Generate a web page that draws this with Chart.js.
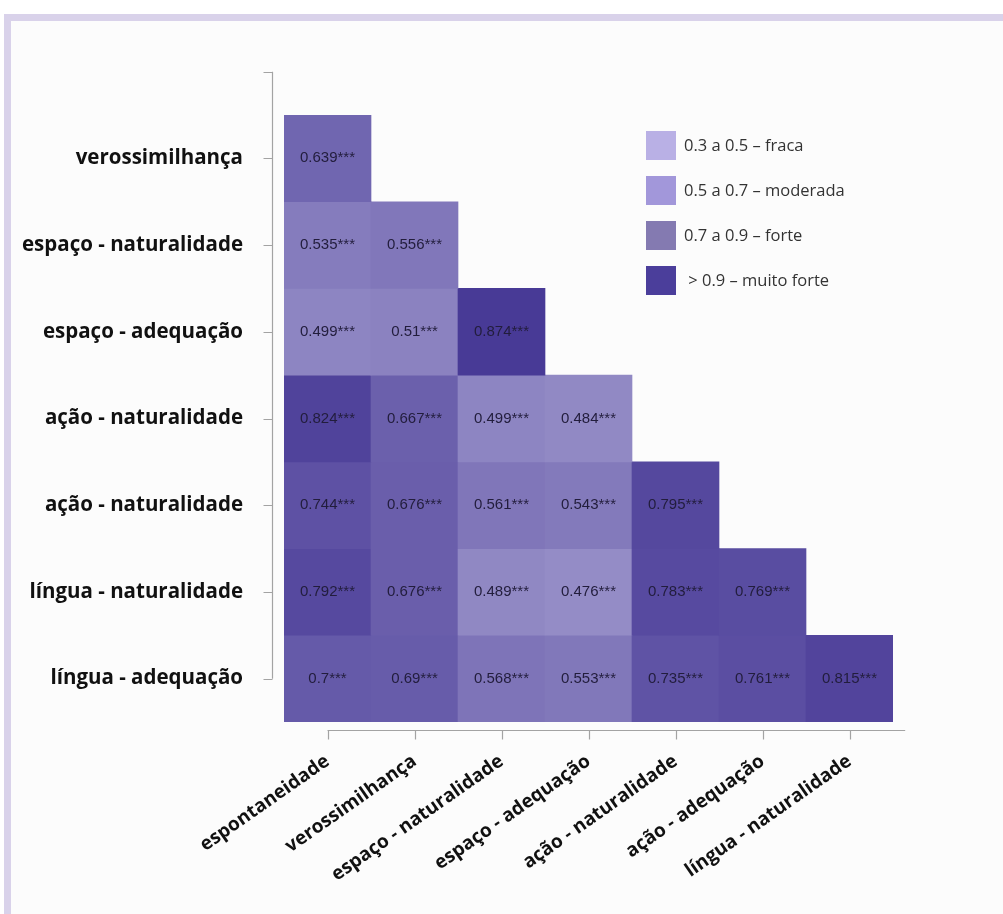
<!DOCTYPE html>
<html>
<head>
<meta charset="utf-8">
<script src="https://cdn.jsdelivr.net/npm/chart.js@4.4.1/dist/chart.umd.min.js"></script>
<style>
  html, body { margin: 0; padding: 0; background: #ffffff; }
  #page { position: relative; width: 1003px; height: 914px; overflow: hidden; }
  #frameTop { position: absolute; left: 4px; top: 14px; width: 999px; height: 7px; background: #d9d2ea; }
  #frameLeft { position: absolute; left: 4px; top: 14px; width: 7px; height: 900px; background: #d9d2ea; }
  #panel { position: absolute; left: 11px; top: 21px; right: 0; bottom: 0; background: #fcfcfc; }
  #chart { position: absolute; left: 0; top: 0; }
  #legend { position: absolute; left: 646px; top: 131px; font-family: "Open Sans", sans-serif; font-size: 16.5px; color: #333; }
  .item { position: relative; height: 29px; margin-bottom: 16px; }
  .sw { position: absolute; left: 0; top: 0; width: 30px; height: 29px; }
  .lab { position: absolute; left: 38px; top: 3px; white-space: pre; line-height: 22px; }
</style>
</head>
<body>
<div id="page">
  <div id="frameTop"></div>
  <div id="frameLeft"></div>
  <div id="panel"></div>
  <canvas id="chart" width="1003" height="914"></canvas>
  <div id="legend"></div>
</div>
<script>
// Variables on the horizontal axis (columns of the lower triangle)
const columnLabels = [
  'espontaneidade', 'verossimilhança', 'espaço - naturalidade', 'espaço - adequação',
  'ação - naturalidade', 'ação - adequação', 'língua - naturalidade'
];
// Variables on the vertical axis (rows, top to bottom)
const rowLabels = [
  'verossimilhança', 'espaço - naturalidade', 'espaço - adequação', 'ação - naturalidade',
  'ação - naturalidade', 'língua - naturalidade', 'língua - adequação'
];
// Correlation coefficients, one list per row (row i has i+1 cells)
const row1 = [0.639];
const row2 = [0.535, 0.556];
const row3 = [0.499, 0.51, 0.874];
const row4 = [0.824, 0.667, 0.499, 0.484];
const row5 = [0.744, 0.676, 0.561, 0.543, 0.795];
const row6 = [0.792, 0.676, 0.489, 0.476, 0.783, 0.769];
const row7 = [0.7, 0.69, 0.568, 0.553, 0.735, 0.761, 0.815];
const rows = [row1, row2, row3, row4, row5, row6, row7];
const significance = '***';

// Strength classes shown in the legend
const legendLabels = ['0.3 a 0.5 – fraca', '0.5 a 0.7 – moderada', '0.7 a 0.9 – forte', ' > 0.9 – muito forte'];
const legendColors = ['#b9b0e5', '#a297da', '#847ab1', '#4b3e9b'];

// Cell colour: blend from a light to a dark purple over the value range
const lightEnd = [148, 140, 198], darkEnd = [72, 58, 150];
const vMin = 0.476, vMax = 0.874;
function cellColor(v) {
  const t = Math.pow(Math.max(0, Math.min(1, (v - vMin) / (vMax - vMin))), 0.85);
  const c = lightEnd.map((a, i) => Math.round(a + (darkEnd[i] - a) * t));
  return `rgb(${c[0]},${c[1]},${c[2]})`;
}

// One floating-bar dataset per row, spanning [row, row+1] on the vertical axis
const datasets = rows.map((vals, r) => ({
  label: rowLabels[r],
  data: columnLabels.map((_, c) => (c < vals.length ? [r, r + 1] : null)),
  values: vals,
  backgroundColor: columnLabels.map((_, c) => (c < vals.length ? cellColor(vals[c]) : 'rgba(0,0,0,0)')),
  borderWidth: 0,
  categoryPercentage: 1,
  barPercentage: 1,
  grouped: false
}));

// Writes the coefficient in the middle of each cell
const cellText = {
  id: 'cellText',
  afterDatasetsDraw(chart) {
    const ctx = chart.ctx;
    ctx.save();
    ctx.font = '15px "Liberation Sans", Arial, sans-serif';
    ctx.fillStyle = '#221d3c';
    ctx.textAlign = 'center';
    ctx.textBaseline = 'middle';
    chart.data.datasets.forEach((ds, di) => {
      const meta = chart.getDatasetMeta(di);
      meta.data.forEach((el, i) => {
        if (ds.data[i] == null) return;
        const v = ds.values[i];
        ctx.fillText(String(v) + significance, el.x, (el.y + el.base) / 2);
      });
    });
    ctx.restore();
  }
};

// Detached axis lines with tick marks, set apart from the cells
const axisLines = {
  id: 'axisLines',
  afterDraw(chart) {
    const { ctx, chartArea, scales } = chart;
    const xs = scales.x, ys = scales.y;
    const tick = 9;
    ctx.save();
    ctx.strokeStyle = '#a3a3a3';
    ctx.lineWidth = 1.2;
    // vertical axis
    const ax = chartArea.left - 11.5;
    const yTop = ys.getPixelForValue(-0.5), yBot = ys.getPixelForValue(rowLabels.length - 0.5);
    ctx.beginPath();
    ctx.moveTo(ax, yTop); ctx.lineTo(ax, yBot);
    for (let i = -1; i < rowLabels.length; i++) {
      const p = Math.round(ys.getPixelForValue(i + 0.5)) + 0.5;
      ctx.moveTo(ax, p); ctx.lineTo(ax - tick, p);
    }
    ctx.stroke();
    // horizontal axis
    const ay = chartArea.bottom + 8.5;
    const step = xs.getPixelForValue(1) - xs.getPixelForValue(0);
    const xL = xs.getPixelForValue(0), xR = xs.getPixelForValue(columnLabels.length - 1) + 0.64 * step;
    ctx.beginPath();
    ctx.moveTo(xL, ay); ctx.lineTo(xR, ay);
    for (let i = 0; i < columnLabels.length; i++) {
      const p = Math.round(xs.getPixelForValue(i)) + 0.5;
      ctx.moveTo(p, ay); ctx.lineTo(p, ay + tick);
    }
    ctx.stroke();
    ctx.restore();
  }
};

new Chart(document.getElementById('chart'), {
  type: 'bar',
  data: { labels: columnLabels, datasets },
  options: {
    responsive: false,
    animation: false,
    layout: { padding: { top: 115, right: 110, left: 0, bottom: 0 } },
    plugins: { legend: { display: false }, tooltip: { enabled: false } },
    scales: {
      x: {
        type: 'category',
        offset: true,
        grid: { display: false, drawTicks: false },
        border: { display: false },
        afterFit(s) { s.height = 192; },
        ticks: {
          autoSkip: false,
          minRotation: 35,
          maxRotation: 35,
          padding: 28,
          color: '#111',
          font: { family: '"Open Sans", sans-serif', size: 19, weight: 'bold' }
        }
      },
      y: {
        type: 'linear',
        min: 0,
        max: rowLabels.length,
        reverse: true,
        grid: { display: false, drawTicks: false },
        border: { display: false },
        afterFit(s) { s.width = 284; },
        afterBuildTicks(s) { s.ticks = rowLabels.map((_, i) => ({ value: i + 0.5 })); },
        ticks: {
          autoSkip: false,
          padding: 41,
          color: '#111',
          font: { family: '"Open Sans", sans-serif', size: 20.5, weight: 'bold' },
          callback: (v) => rowLabels[Math.round(v - 0.5)]
        }
      }
    }
  },
  plugins: [cellText, axisLines]
});

// Legend of correlation strength classes
const legend = document.getElementById('legend');
legendLabels.forEach((t, i) => {
  const item = document.createElement('div');
  item.className = 'item';
  item.innerHTML = `<div class="sw" style="background:${legendColors[i]}"></div><div class="lab"></div>`;
  item.querySelector('.lab').textContent = t;
  legend.appendChild(item);
});
</script>
</body>
</html>
